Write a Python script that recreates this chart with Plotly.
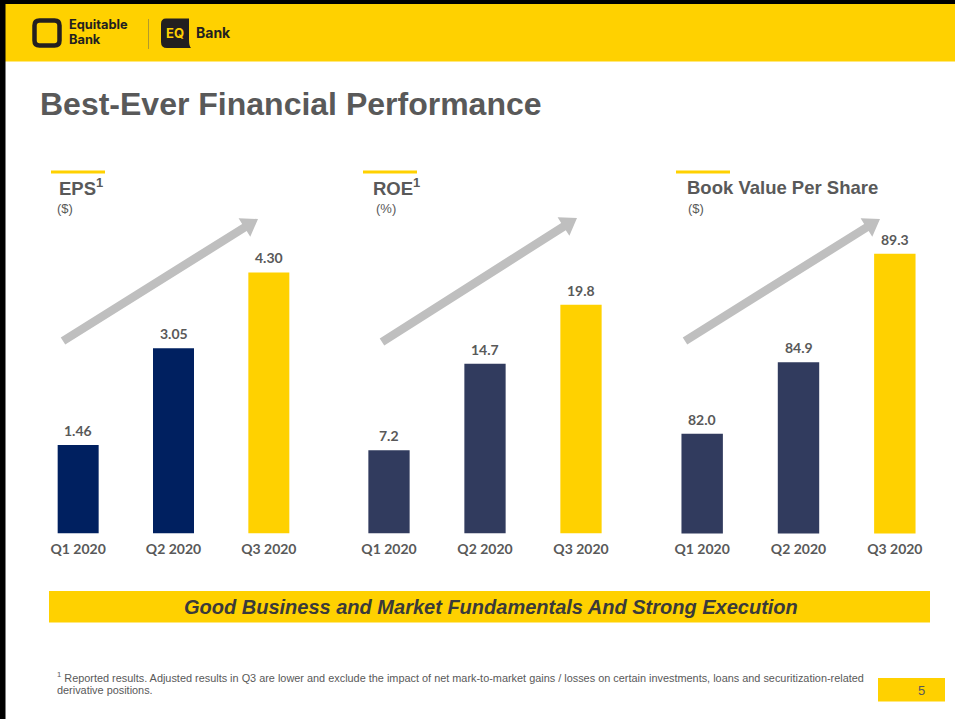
import math
import plotly.graph_objects as go

W, H = 955, 719

# ---------------- data ----------------
categories = ["Q1 2020", "Q2 2020", "Q3 2020"]
eps_values = [1.46, 3.05, 4.30]
eps_labels = ["1.46", "3.05", "4.30"]
roe_values = [7.2, 14.7, 19.8]
roe_labels = ["7.2", "14.7", "19.8"]
bvps_values = [82.0, 84.9, 89.3]
bvps_labels = ["82.0", "84.9", "89.3"]
chart_titles = ["EPS<sup>1</sup>", "ROE<sup>1</sup>", "Book Value Per Share"]
chart_units = ["($)", "(%)", "($)"]

# ---------------- style ----------------
YELLOW = "#FFD100"
NAVY = "#002060"
SLATE = "#313B5E"
GRAY_TXT = "#595959"
ARROW = "#BFBFBF"
DARK = "#231F20"


def X(px):
    return px / W


def Y(py):
    return 1 - py / H


fig = go.Figure()

panels = [
    dict(x0=30.5, x1=316.5, vals=eps_values, labels=eps_labels,
         colors=[NAVY, NAVY, YELLOW], ymin=0.0, scale=60.7),
    dict(x0=341, x1=629, vals=roe_values, labels=roe_labels,
         colors=[SLATE, SLATE, YELLOW], ymin=0.0, scale=11.55),
    dict(x0=654, x1=943, vals=bvps_values, labels=bvps_labels,
         colors=[SLATE, SLATE, YELLOW], ymin=77.95, scale=24.65),
]
BASE = 533.5
TOP = 213

annotations = []
shapes = []

for i, p in enumerate(panels):
    n = "" if i == 0 else str(i + 1)
    xa = "x" + n
    ya = "y" + n
    fig.add_trace(go.Bar(
        x=categories, y=p["vals"], xaxis=xa, yaxis=ya,
        marker=dict(color=p["colors"], line=dict(width=0)),
        width=0.43, showlegend=False, hoverinfo="x+y",
    ))
    ymax = p["ymin"] + (BASE - TOP) / p["scale"]
    fig.layout["xaxis" + n] = dict(
        domain=[X(p["x0"]), X(p["x1"])], anchor=ya, type="category",
        range=[-0.5, 2.5], showgrid=False, zeroline=False, showline=False,
        ticks="outside", ticklen=3, tickcolor="rgba(0,0,0,0)",
        tickfont=dict(family="Lato", size=14, color=GRAY_TXT, weight="bold"),
        fixedrange=True,
    )
    fig.layout["yaxis" + n] = dict(
        domain=[Y(BASE), Y(TOP)], anchor=xa, range=[p["ymin"], ymax],
        showgrid=False, zeroline=False, showline=False, showticklabels=False,
        fixedrange=True,
    )
    for c, v, t in zip(categories, p["vals"], p["labels"]):
        annotations.append(dict(
            x=c, y=v, xref=xa, yref=ya, text=t, showarrow=False,
            yanchor="bottom", yshift=4,
            font=dict(family="Lato", size=14, color=GRAY_TXT, weight="bold"),
        ))

# chart headers
header_x = [51, 363, 676]
title_x = [57, 371, 685]
unit_x = [55, 374, 686]
for hx, tx, ux, t, u in zip(header_x, title_x, unit_x, chart_titles, chart_units):
    shapes.append(dict(type="rect", xref="paper", yref="paper",
                       x0=X(hx), x1=X(hx + 54), y0=Y(173.5), y1=Y(170.5),
                       fillcolor=YELLOW, line=dict(width=0)))
    annotations.append(dict(x=X(tx), y=Y(187), xref="paper", yref="paper",
                            text="<b>" + t + "</b>", showarrow=False,
                            xanchor="left", yanchor="middle",
                            font=dict(family="Liberation Sans", size=18.5, color=GRAY_TXT)))
    annotations.append(dict(x=X(ux), y=Y(208), xref="paper", yref="paper",
                            text=u, showarrow=False, xanchor="left", yanchor="middle",
                            font=dict(family="Liberation Sans", size=13, color=GRAY_TXT)))


def arrow_path(x0, y0, x1, y1, w=8.5, hl=16, hw=11):
    dx, dy = x1 - x0, y1 - y0
    L = math.hypot(dx, dy)
    ux, uy = dx / L, dy / L
    nx, ny = -uy, ux
    bx, by = x1 - ux * hl, y1 - uy * hl
    pts = [
        (x0 + nx * w / 2, y0 + ny * w / 2),
        (bx + nx * w / 2, by + ny * w / 2),
        (bx + nx * hw, by + ny * hw),
        (x1, y1),
        (bx - nx * hw, by - ny * hw),
        (bx - nx * w / 2, by - ny * w / 2),
        (x0 - nx * w / 2, y0 - ny * w / 2),
    ]
    return "M " + " L ".join(f"{X(a):.5f},{Y(b):.5f}" for a, b in pts) + " Z"


for (a, b, c, d) in [(63, 341, 258, 219), (382, 342, 577, 218), (685, 341, 880, 219)]:
    shapes.append(dict(type="path", xref="paper", yref="paper",
                       path=arrow_path(a, b, c, d), fillcolor=ARROW,
                       line=dict(width=0)))

# header band and borders
shapes.append(dict(type="rect", xref="paper", yref="paper", x0=0, x1=1,
                   y0=Y(61.5), y1=1, fillcolor=YELLOW, line=dict(width=0), layer="below"))
shapes.append(dict(type="rect", xref="paper", yref="paper", x0=0, x1=1,
                   y0=Y(4), y1=1, fillcolor="#000000", line=dict(width=0)))
shapes.append(dict(type="rect", xref="paper", yref="paper", x0=0, x1=X(5.5),
                   y0=0, y1=1, fillcolor="#000000", line=dict(width=0)))


def rrect(x0, y0, x1, y1, r):
    return (f"M {X(x0+r)},{Y(y0)} L {X(x1-r)},{Y(y0)} Q {X(x1)},{Y(y0)} {X(x1)},{Y(y0+r)} "
            f"L {X(x1)},{Y(y1-r)} Q {X(x1)},{Y(y1)} {X(x1-r)},{Y(y1)} "
            f"L {X(x0+r)},{Y(y1)} Q {X(x0)},{Y(y1)} {X(x0)},{Y(y1-r)} "
            f"L {X(x0)},{Y(y0+r)} Q {X(x0)},{Y(y0)} {X(x0+r)},{Y(y0)} Z")


shapes.append(dict(type="path", xref="paper", yref="paper",
                   path=rrect(34.5, 20.5, 59.5, 45.5, 5), fillcolor="rgba(0,0,0,0)",
                   line=dict(color=DARK, width=4.5)))
annotations.append(dict(x=X(67), y=Y(24.5), xref="paper", yref="paper", text="<b>Equitable</b>",
                        showarrow=False, xanchor="left", yanchor="middle",
                        font=dict(family="Inter", size=12.8, color=DARK)))
annotations.append(dict(x=X(67), y=Y(40), xref="paper", yref="paper", text="<b>Bank</b>",
                        showarrow=False, xanchor="left", yanchor="middle",
                        font=dict(family="Inter", size=12.8, color=DARK)))
shapes.append(dict(type="line", xref="paper", yref="paper", x0=X(148.5), x1=X(148.5),
                   y0=Y(19), y1=Y(49), line=dict(color="#B39A2A", width=1)))
eq_path = (f"M {X(166)},{Y(18.5)} L {X(189)},{Y(18.5)} L {X(189)},{Y(40)} "
           f"Q {X(189)},{Y(46)} {X(191)},{Y(48)} L {X(167)},{Y(48)} "
           f"Q {X(161)},{Y(48)} {X(161)},{Y(42)} L {X(161)},{Y(24)} "
           f"Q {X(161)},{Y(18.5)} {X(166)},{Y(18.5)} Z")
shapes.append(dict(type="path", xref="paper", yref="paper", path=eq_path,
                   fillcolor=DARK, line=dict(width=0)))
annotations.append(dict(x=X(174.5), y=Y(33), xref="paper", yref="paper", text="<b>EQ</b>",
                        showarrow=False, xanchor="center", yanchor="middle",
                        font=dict(family="Inter", size=13, color=YELLOW)))
annotations.append(dict(x=X(194), y=Y(32.5), xref="paper", yref="paper", text="<b>Bank</b>",
                        showarrow=False, xanchor="left", yanchor="middle",
                        font=dict(family="Inter", size=14, color=DARK)))

# slide title
annotations.append(dict(x=X(38), y=Y(104), xref="paper", yref="paper",
                        text="<b>Best-Ever Financial Performance</b>", showarrow=False,
                        xanchor="left", yanchor="middle",
                        font=dict(family="Liberation Sans", size=32, color=GRAY_TXT)))

# bottom banner
shapes.append(dict(type="rect", xref="paper", yref="paper", x0=X(49), x1=X(930),
                   y0=Y(622.5), y1=Y(591), fillcolor=YELLOW, line=dict(width=0), layer="below"))
annotations.append(dict(x=X(491), y=Y(607), xref="paper", yref="paper",
                        text="<b><i>Good Business and Market Fundamentals And Strong Execution</i></b>",
                        showarrow=False, xanchor="center", yanchor="middle",
                        font=dict(family="Liberation Sans", size=20, color="#3A3A3A")))

# footnote
annotations.append(dict(x=X(55), y=Y(677), xref="paper", yref="paper",
                        text="<sup>1</sup> Reported results. Adjusted results in Q3 are lower and exclude the impact of net mark-to-market gains / losses on certain investments, loans and securitization-related",
                        showarrow=False, xanchor="left", yanchor="middle",
                        font=dict(family="Liberation Sans", size=10.9, color=GRAY_TXT)))
annotations.append(dict(x=X(55), y=Y(690), xref="paper", yref="paper",
                        text="derivative positions.", showarrow=False,
                        xanchor="left", yanchor="middle",
                        font=dict(family="Liberation Sans", size=10.9, color=GRAY_TXT)))

# page number
shapes.append(dict(type="rect", xref="paper", yref="paper", x0=X(878), x1=X(945),
                   y0=Y(701.5), y1=Y(678), fillcolor=YELLOW, line=dict(width=0), layer="below"))
annotations.append(dict(x=X(921), y=Y(690), xref="paper", yref="paper", text="5",
                        showarrow=False, xanchor="center", yanchor="middle",
                        font=dict(family="Liberation Sans", size=13, color=GRAY_TXT)))

fig.update_layout(
    width=W, height=H, margin=dict(l=0, r=0, t=0, b=0),
    paper_bgcolor="white", plot_bgcolor="rgba(0,0,0,0)",
    shapes=shapes, annotations=annotations, bargap=0.57,
)

fig.write_html("out.html", config={"displayModeBar": False})
